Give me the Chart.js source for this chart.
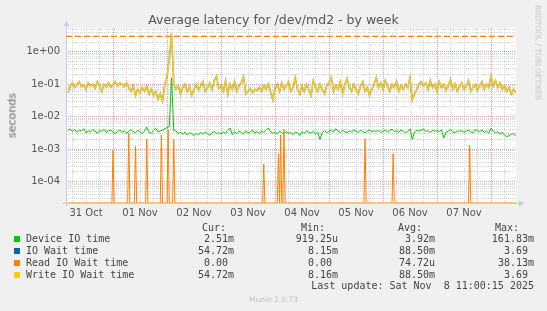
<!DOCTYPE html>
<html lang="en">
<head>
  <meta charset="UTF-8" />
  <title>Average latency for /dev/md2 - by week</title>
  <script src="https://cdn.jsdelivr.net/npm/chart.js"></script>
  <style>
    body {
      margin: 0;
      background: #f0f0f0;
    }
    #wrap {
      position: relative;
      width: 547px;
      height: 311px;
      overflow: hidden;
    }
    canvas {
      position: absolute;
      left: 0;
      top: 0;
    }
    .txt {
      position: absolute;
      white-space: pre;
      line-height: 12px;
      color: #444;
    }
    .mono {
      font-family: 'DejaVu Sans Mono', monospace;
      font-size: 10px;
    }
    .sq {
      position: absolute;
      width: 6px;
      height: 6px;
    }
  </style>
</head>
<body>
<div id="wrap">
  <canvas id="chart" width="547" height="311"></canvas>
</div>

<script>
  // hours counted from 31 Oct 00:00, one sample per hour from 04:00
  const startHour = 4;
  const dayLabels = ['31 Oct', '01 Nov', '02 Nov', '03 Nov', '04 Nov', '05 Nov', '06 Nov', '07 Nov'];

  // Device IO time, in milliseconds
  const deviceMs = [
    3.8, 4.2, 3.5, 4.0, 3.3, 3.9, 3.6, 4.3, 3.2, 3.7, 3.4, 4.0, 3.6, 3.1, 3.8, 3.5, 4.1, 3.3, 3.7, 3.9,
    3.4, 3.0, 3.6, 3.9, 3.3, 3.7, 3.1, 3.5, 4.0, 3.4, 3.2, 3.8, 3.5, 3.0, 3.6, 4.8, 3.3, 3.1, 3.7, 4.4, 3.4, 3.6, 3.9, 4.3,
    4.6, 5.0, 160, 3.8,
    3.6, 3.1, 3.3, 2.9, 3.4, 2.7, 3.2, 3.0, 2.6, 3.1, 2.8, 3.3, 2.9, 3.4, 3.0, 2.7, 3.2, 3.5, 3.0, 3.3,
    2.9, 3.4, 3.1, 3.8, 4.5, 2.8, 3.5, 3.0, 3.6, 3.3, 2.9, 3.7, 3.2, 3.4, 3.9, 3.1, 3.5, 3.0, 3.6, 3.3, 3.8, 4.5, 3.5, 3.1,
    3.4, 3.0, 3.6, 3.2, 2.9, 3.5, 3.1, 3.3, 2.8, 3.4, 3.2, 2.6, 3.5, 3.0, 3.7, 3.3, 3.1, 3.6, 2.9, 3.4, 2.0, 3.3, 3.7, 3.2,
    3.5, 3.9, 3.4, 4.3, 3.6, 3.3, 3.8, 3.5, 3.2, 3.7, 3.4, 3.9, 3.6, 3.3, 3.8, 3.5, 3.2, 3.6, 3.9, 3.4, 3.7, 3.5, 3.8, 3.3,
    3.6, 3.9, 3.4, 3.8, 4.1, 3.5, 3.7, 3.3, 3.9, 3.6, 3.2, 3.5, 4.2, 2.0, 3.4, 3.8, 3.6, 3.9, 4.2, 3.5, 3.7, 3.3, 3.8, 3.6,
    3.7, 3.5, 3.9, 2.2, 3.3, 3.6, 4.0, 3.4, 3.2, 3.7, 3.5, 3.8, 3.3, 3.6, 3.9, 3.4, 3.2, 4.0, 3.7, 3.5, 3.9, 3.3, 3.6, 3.1,
    4.4, 3.6, 3.2, 3.5, 2.9, 3.3, 2.7, 2.4, 2.6, 2.9, 3.0, 2.51
  ];

  // Write IO wait time (IO wait time follows the same curve), seconds
  const writeWait = [
    0.055, 0.09, 0.11, 0.08, 0.1, 0.12, 0.085, 0.095, 0.07, 0.11, 0.09, 0.1, 0.075, 0.12, 0.09, 0.06, 0.1, 0.085, 0.11, 0.08,
    0.1, 0.12, 0.09, 0.11, 0.1, 0.085, 0.11, 0.08, 0.06, 0.09, 0.045, 0.07, 0.055, 0.08, 0.06, 0.09, 0.05, 0.07, 0.045, 0.06, 0.035, 0.05, 0.03, 0.1,
    0.17, 0.6, 3.69, 0.1,
    0.07, 0.09, 0.05, 0.08, 0.1, 0.06, 0.085, 0.045, 0.07, 0.1, 0.065, 0.09, 0.12, 0.06, 0.08, 0.11, 0.07, 0.13, 0.18, 0.075,
    0.09, 0.06, 0.13, 0.05, 0.1, 0.07, 0.12, 0.06, 0.09, 0.11, 0.17, 0.05, 0.06, 0.075, 0.055, 0.07, 0.065, 0.08, 0.06, 0.09, 0.07, 0.1, 0.06, 0.033,
    0.08, 0.1, 0.06, 0.11, 0.07, 0.09, 0.12, 0.06, 0.08, 0.16, 0.07, 0.05, 0.09, 0.06, 0.1, 0.07, 0.045, 0.13, 0.08, 0.06, 0.1, 0.07, 0.05, 0.09,
    0.11, 0.16, 0.06, 0.09, 0.07, 0.12, 0.05, 0.1, 0.15, 0.08, 0.06, 0.1, 0.07, 0.05, 0.09, 0.12, 0.06, 0.08, 0.045, 0.07, 0.1, 0.16, 0.08, 0.11,
    0.07, 0.13, 0.09, 0.06, 0.1, 0.08, 0.12, 0.06, 0.09, 0.07, 0.1, 0.08, 0.16, 0.033, 0.05, 0.07, 0.1, 0.12, 0.09, 0.11, 0.07, 0.13, 0.08, 0.1,
    0.06, 0.12, 0.08, 0.1, 0.065, 0.09, 0.14, 0.07, 0.1, 0.06, 0.085, 0.11, 0.07, 0.09, 0.13, 0.06, 0.08, 0.1, 0.065, 0.09, 0.12, 0.07, 0.1, 0.08,
    0.18, 0.09, 0.13, 0.08, 0.11, 0.07, 0.09, 0.06, 0.08, 0.05, 0.07, 0.055
  ];
  const ioWait = writeWait;

  // Read IO wait time is zero except for these samples
  const readSpikeHours = [24, 31, 34, 39, 45.5, 48.5, 51, 91, 97.5, 98.5, 100, 136, 148.5, 182.5];
  const readSpikeValues = [9e-4, 3.1e-3, 1.26e-3, 2.1e-3, 2.75e-3, 3.9e-3, 2e-3, 3.5e-4, 7.2e-4, 2.75e-3, 4.1e-3, 2.1e-3, 7.2e-4, 1.35e-3];

  const thresholdValue = 3;

  // legend table
  const seriesNames = ['Device IO time', 'IO Wait time', 'Read IO Wait time', 'Write IO Wait time'];
  const seriesColors = ['#00cc00', '#0066b3', '#ff8000', '#ffcc00'];
  const curVals = ['2.51m', '54.72m', '0.00 ', '54.72m'];
  const minVals = ['919.25u', '8.15m', '0.00 ', '8.16m'];
  const avgVals = ['3.92m', '88.50m', '74.72u', '88.50m'];
  const maxVals = ['161.83m', '3.69 ', '38.13m', '3.69 '];

  const xMin = 3.1, xMax = 203.1;
  const yMin = 2.2e-5, yMax = 5.4;

  const hourAt = i => startHour + i;
  const devicePts = deviceMs.map((v, i) => ({ x: hourAt(i), y: v / 1000 }));
  const writePts = writeWait.map((v, i) => ({ x: hourAt(i), y: v }));
  const ioPts = ioWait.map((v, i) => ({ x: hourAt(i), y: v }));

  const readPts = [{ x: startHour, y: 0 }];
  readSpikeHours.forEach((h, i) => {
    readPts.push({ x: h - 0.5, y: 0 }, { x: h, y: readSpikeValues[i] }, { x: h + 0.5, y: 0 });
  });
  readPts.push({ x: hourAt(writeWait.length - 1), y: 0 });
  // zero sits on the bottom of the log axis
  readPts.forEach(p => { if (p.y === 0) p.y = yMin; });

  const isDecade = v => Math.abs(Math.log10(v) - Math.round(Math.log10(v))) < 1e-6;

  const plotBg = {
    id: 'plotBg',
    beforeDraw(chart) {
      const { ctx, chartArea: a } = chart;
      ctx.save();
      ctx.fillStyle = '#ffffff';
      ctx.fillRect(a.left, a.top, a.right - a.left, a.bottom - a.top);
      ctx.restore();
    }
  };

  const axisLines = {
    id: 'axisLines',
    beforeDatasetsDraw(chart) {
      const { ctx, chartArea: a } = chart;
      ctx.save();
      ctx.strokeStyle = '#c8c8f0';
      ctx.fillStyle = '#c8c8f0';
      ctx.lineWidth = 1;
      ctx.beginPath();
      ctx.moveTo(a.left + 0.5, a.bottom + 3);
      ctx.lineTo(a.left + 0.5, a.top - 3);
      ctx.moveTo(a.left - 3, a.bottom + 0.5);
      ctx.lineTo(a.right + 3, a.bottom + 0.5);
      ctx.stroke();
      ctx.beginPath();
      ctx.moveTo(a.left - 2.5, a.top - 2);
      ctx.lineTo(a.left + 3.5, a.top - 2);
      ctx.lineTo(a.left + 0.5, a.top - 7);
      ctx.closePath();
      ctx.fill();
      ctx.beginPath();
      ctx.moveTo(a.right + 3, a.bottom - 2.5);
      ctx.lineTo(a.right + 3, a.bottom + 3.5);
      ctx.lineTo(a.right + 8, a.bottom + 0.5);
      ctx.closePath();
      ctx.fill();
      ctx.restore();
    }
  };

  const ctx = document.getElementById('chart').getContext('2d');

  const chart = new Chart(ctx, {
    type: 'line',
    data: {
      datasets: [
        {
          label: 'threshold',
          data: [{ x: xMin, y: thresholdValue }, { x: xMax, y: thresholdValue }],
          borderColor: '#ff8000',
          borderWidth: 1.2,
          borderDash: [6, 3],
          pointRadius: 0
        },
        {
          label: seriesNames[3],
          data: writePts,
          borderColor: seriesColors[3],
          borderWidth: 1.2,
          pointRadius: 0
        },
        {
          label: seriesNames[2],
          data: readPts,
          borderColor: seriesColors[2],
          borderWidth: 1,
          pointRadius: 0
        },
        {
          label: seriesNames[1],
          data: ioPts,
          borderColor: 'rgba(90,110,120,0.6)',
          borderWidth: 1.7,
          pointRadius: 0
        },
        {
          label: seriesNames[0],
          data: devicePts,
          borderColor: seriesColors[0],
          borderWidth: 1,
          pointRadius: 0
        }
      ]
    },
    options: {
      responsive: false,
      animation: false,
      layout: { padding: { top: 28, right: 31, left: 0, bottom: 0 } },
      plugins: {
        legend: { display: false },
        tooltip: { enabled: false }
      },
      scales: {
        x: {
          type: 'linear',
          min: xMin,
          max: xMax,
          afterBuildTicks: scale => {
            const ticks = [];
            for (let h = 6; h < xMax; h += 6) ticks.push({ value: h });
            scale.ticks = ticks;
          },
          afterFit: scale => { scale.height = 108; },
          grid: {
            drawTicks: false,
            lineWidth: 1,
            color: c => (c.tick && c.tick.value % 24 === 0) ? '#e4a0a0' : '#d4d4d4'
          },
          border: { display: false, dash: [1, 1] },
          ticks: {
            autoSkip: false,
            maxRotation: 0,
            padding: 4,
            color: '#555',
            font: { family: 'DejaVu Sans', size: 10 },
            callback: v => (v % 24 === 12) ? (dayLabels[(v - 12) / 24] || '') : ''
          }
        },
        y: {
          type: 'logarithmic',
          min: yMin,
          max: yMax,
          afterBuildTicks: scale => {
            const ticks = [];
            for (let e = -5; e <= 1; e++) {
              for (let m = 1; m <= 9; m++) {
                const v = m * Math.pow(10, e);
                if (v > yMin && v < yMax) ticks.push({ value: v });
              }
            }
            scale.ticks = ticks;
          },
          afterFit: scale => { scale.width = 66; },
          grid: {
            drawTicks: false,
            lineWidth: 1,
            color: c => (c.tick && isDecade(c.tick.value)) ? '#e4a0a0' : '#d4d4d4'
          },
          border: { display: false, dash: [1, 1] },
          ticks: {
            autoSkip: false,
            padding: 6,
            color: '#555',
            font: { family: 'DejaVu Sans', size: 10 },
            callback: v => {
              if (!isDecade(v)) return '';
              const e = Math.round(Math.log10(v));
              return '1e' + (e < 0 ? '-' : '+') + String(Math.abs(e)).padStart(2, '0');
            }
          }
        }
      }
    },
    plugins: [plotBg, axisLines]
  });

  // text around the plot
  const wrap = document.getElementById('wrap');
  function addText(str, style, cls) {
    const d = document.createElement('div');
    d.className = 'txt ' + (cls || '');
    d.textContent = str;
    Object.assign(d.style, style);
    wrap.appendChild(d);
    return d;
  }

  addText('Average latency for /dev/md2 - by week', {
    left: '0px', width: '547px', textAlign: 'center', top: '12px', lineHeight: '14px',
    font: '12.5px "DejaVu Sans"', color: '#555'
  });
  addText('seconds', {
    left: '-13px', top: '109px', width: '50px', textAlign: 'center', lineHeight: '12px',
    font: '11px "DejaVu Sans"', color: '#666', transform: 'rotate(-90deg)'
  });
  addText('RRDTOOL / TOBI OETIKER', {
    left: '490px', top: '48px', width: '96px', textAlign: 'center', lineHeight: '9px',
    font: '7.4px "DejaVu Sans"', color: '#c4c4c4', transform: 'rotate(90deg)'
  });

  const headRow = 222;
  addText('Cur:', { left: '202px', top: headRow + 'px' }, 'mono');
  addText('Min:', { left: '301px', top: headRow + 'px' }, 'mono');
  addText('Avg:', { left: '398px', top: headRow + 'px' }, 'mono');
  addText('Max:', { left: '495px', top: headRow + 'px' }, 'mono');

  const rightEdge = (x, w) => ({ left: (x - w) + 'px', width: w + 'px', textAlign: 'right' });
  seriesNames.forEach((name, i) => {
    const top = 233 + i * 12;
    const sq = document.createElement('div');
    sq.className = 'sq';
    sq.style.left = '14px';
    sq.style.top = (top + 3) + 'px';
    sq.style.background = seriesColors[i];
    wrap.appendChild(sq);
    addText(name, { left: '26px', top: top + 'px' }, 'mono');
    addText(curVals[i], Object.assign({ top: top + 'px' }, rightEdge(234, 60)), 'mono');
    addText(minVals[i], Object.assign({ top: top + 'px' }, rightEdge(338, 60)), 'mono');
    addText(avgVals[i], Object.assign({ top: top + 'px' }, rightEdge(435, 60)), 'mono');
    addText(maxVals[i], Object.assign({ top: top + 'px' }, rightEdge(534, 60)), 'mono');
  });

  addText('Last update: Sat Nov  8 11:00:15 2025', Object.assign({ top: '280px' }, rightEdge(534, 260)), 'mono');
  addText('Munin 2.0.73', {
    left: '0px', width: '547px', textAlign: 'center', top: '295px', lineHeight: '10px',
    font: '7.5px "DejaVu Sans"', color: '#c0c0c0'
  });
</script>
</body>
</html>
